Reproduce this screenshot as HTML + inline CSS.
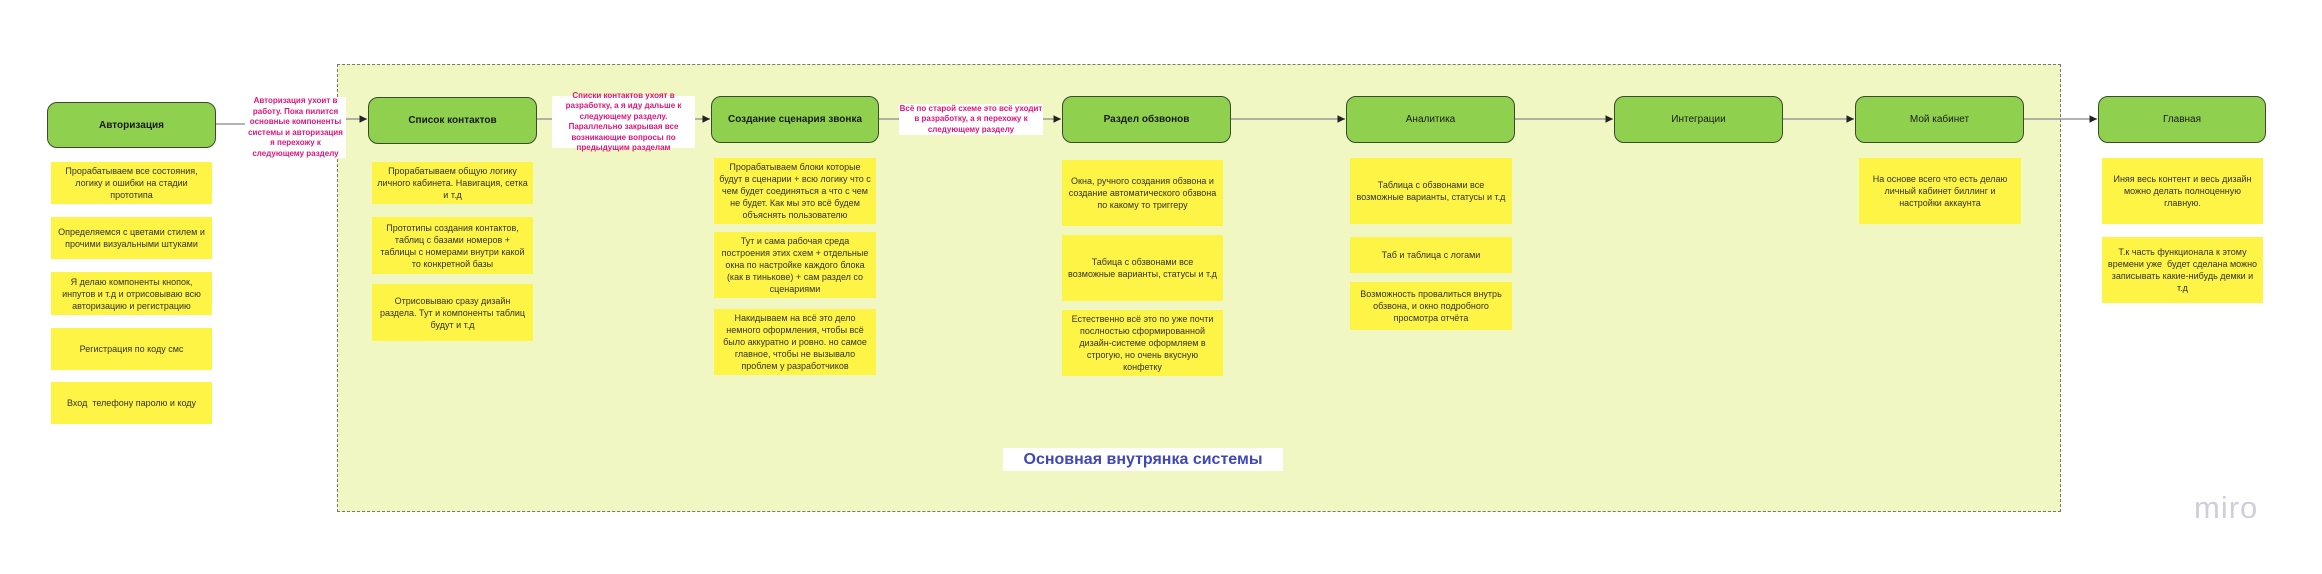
<!DOCTYPE html>
<html><head><meta charset="utf-8"><style>
body{margin:0;width:2322px;height:574px;background:#fff;position:relative;overflow:hidden;font-family:"Liberation Sans","Noto Sans CJK SC",sans-serif;}
.a{position:absolute;box-sizing:border-box;}
.g{background:#8fd14f;border:1.5px solid #3b4a2e;border-radius:10px;display:flex;align-items:center;justify-content:center;font-size:10px;color:#1a1a1a;text-align:center}
.g.b{font-weight:bold}
.y{background:#fef445;display:flex;align-items:center;justify-content:center;text-align:center;font-size:9px;line-height:12px;color:#333;padding:0 5px}
.p{background:#fff;color:#e0157a;font-weight:bold;font-size:8px;line-height:10.5px;text-align:center;display:flex;align-items:center;justify-content:center}
</style></head><body>
<div class="a" style="left:337px;top:64px;width:1724px;height:448px;background:#f0f7c3;border:1px dashed #777"></div>
<svg class="a" style="left:0;top:0" width="2322" height="574">
<defs><marker id="m" markerWidth="6" markerHeight="6" refX="5" refY="3" orient="auto"><path d="M0,0.5 L5,3 L0,5.5z" fill="#222"/></marker></defs>
<g stroke="#9a9a9a" stroke-width="1.5" fill="none">
<line x1="216" y1="124" x2="246" y2="124"/>
<line x1="346" y1="119" x2="367" y2="119" marker-end="url(#m)"/>
<line x1="537" y1="119" x2="552" y2="119"/>
<line x1="695" y1="119" x2="710" y2="119" marker-end="url(#m)"/>
<line x1="879" y1="119" x2="899" y2="119"/>
<line x1="1043" y1="119" x2="1061" y2="119" marker-end="url(#m)"/>
<line x1="1231" y1="119" x2="1345" y2="119" marker-end="url(#m)"/>
<line x1="1515" y1="119" x2="1613" y2="119" marker-end="url(#m)"/>
<line x1="1783" y1="119" x2="1854" y2="119" marker-end="url(#m)"/>
<line x1="2024" y1="119" x2="2097" y2="119" marker-end="url(#m)"/>
</g></svg>
<div class="a g b" style="left:47px;top:102px;width:169px;height:46px">Авторизация</div>
<div class="a g b" style="left:368px;top:97px;width:169px;height:47px">Список контактов</div>
<div class="a g b" style="left:711px;top:96px;width:168px;height:47px">Создание сценария звонка</div>
<div class="a g b" style="left:1062px;top:96px;width:169px;height:47px">Раздел обзвонов</div>
<div class="a g" style="left:1346px;top:96px;width:169px;height:47px">Аналитика</div>
<div class="a g" style="left:1614px;top:96px;width:169px;height:47px">Интеграции</div>
<div class="a g" style="left:1855px;top:96px;width:169px;height:47px">Мой кабинет</div>
<div class="a g" style="left:2098px;top:96px;width:168px;height:47px">Главная</div>

<div class="a p" style="left:245px;top:97px;width:101px;height:61px">Авторизация ухоит в работу. Пока пилится основные компоненты системы и авторизация я перехожу к следующему разделу</div>
<div class="a p" style="left:552px;top:96px;width:143px;height:52px">Списки контактов ухоят в разработку, а я иду дальше к следующему разделу. Параллельно закрывая все возникающие вопросы по предыдущим разделам</div>
<div class="a p" style="left:899px;top:104px;width:144px;height:31px">Всё по старой схеме это всё уходит в разработку, а я перехожу к следующему разделу</div>

<div class="a y" style="left:51px;top:162px;width:161px;height:42px">Прорабатываем все состояния, логику и ошибки на стадии прототипа</div>
<div class="a y" style="left:51px;top:217px;width:161px;height:42px">Определяемся с цветами стилем и прочими визуальными штуками</div>
<div class="a y" style="left:51px;top:272px;width:161px;height:43px">Я делаю компоненты кнопок, инпутов и т.д и отрисовываю всю авторизацию и регистрацию</div>
<div class="a y" style="left:51px;top:328px;width:161px;height:42px">Регистрация по коду смс</div>
<div class="a y" style="left:51px;top:382px;width:161px;height:42px">Вход &nbsp;телефону паролю и коду</div>

<div class="a y" style="left:372px;top:162px;width:161px;height:42px">Прорабатываем общую логику личного кабинета. Навигация, сетка и т.д</div>
<div class="a y" style="left:372px;top:217px;width:161px;height:57px">Прототипы создания контактов, таблиц с базами номеров + таблицы с номерами внутри какой то конкретной базы</div>
<div class="a y" style="left:372px;top:284px;width:161px;height:57px">Отрисовываю сразу дизайн раздела. Тут и компоненты таблиц будут и т.д</div>

<div class="a y" style="left:714px;top:158px;width:162px;height:66px">Прорабатываем блоки которые будут в сценарии + всю логику что с чем будет соединяться а что с чем не будет. Как мы это всё будем объяснять пользователю</div>
<div class="a y" style="left:714px;top:232px;width:162px;height:66px">Тут и сама рабочая среда построения этих схем + отдельные окна по настройке каждого блока (как в тиньковe) + сам раздел со сценариями</div>
<div class="a y" style="left:714px;top:309px;width:162px;height:66px">Накидываем на всё это дело немного оформления, чтобы всё было аккуратно и ровно. но самое главное, чтобы не вызывало проблем у разработчиков</div>

<div class="a y" style="left:1062px;top:160px;width:161px;height:66px">Окна, ручного создания обзвона и создание автоматического обзвона по какому то триггеру</div>
<div class="a y" style="left:1062px;top:235px;width:161px;height:66px">Табица с обзвонами все возможные варианты, статусы и т.д</div>
<div class="a y" style="left:1062px;top:310px;width:161px;height:66px">Естественно всё это по уже почти послностью сформированной дизайн-системе оформляем в строгую, но очень вкусную конфетку</div>

<div class="a y" style="left:1350px;top:158px;width:162px;height:66px">Таблица с обзвонами все возможные варианты, статусы и т.д</div>
<div class="a y" style="left:1350px;top:237px;width:162px;height:36px">Таб и таблица с логами</div>
<div class="a y" style="left:1350px;top:282px;width:162px;height:48px">Возможность провалиться внутрь обзвона, и окно подробного просмотра отчёта</div>

<div class="a y" style="left:1859px;top:158px;width:162px;height:66px">На основе всего что есть делаю личный кабинет биллинг и настройки аккаунта</div>

<div class="a y" style="left:2102px;top:158px;width:161px;height:66px">Иняя весь контент и весь дизайн можно делать полноценную главную.</div>
<div class="a y" style="left:2102px;top:237px;width:161px;height:66px">Т.к часть функционала к этому времени уже &nbsp;будет сделана можно записывать какие-нибудь демки и т.д</div>

<div class="a" style="left:1003px;top:448px;width:280px;height:23px;background:#fff;color:#3f48b5;font-weight:bold;font-size:16px;line-height:23px;text-align:center">Основная внутрянка системы</div>
<div class="a" style="left:2194px;top:490px;font-size:31px;color:#cfcfdc;letter-spacing:1px;line-height:36px">miro</div>
</body></html>
